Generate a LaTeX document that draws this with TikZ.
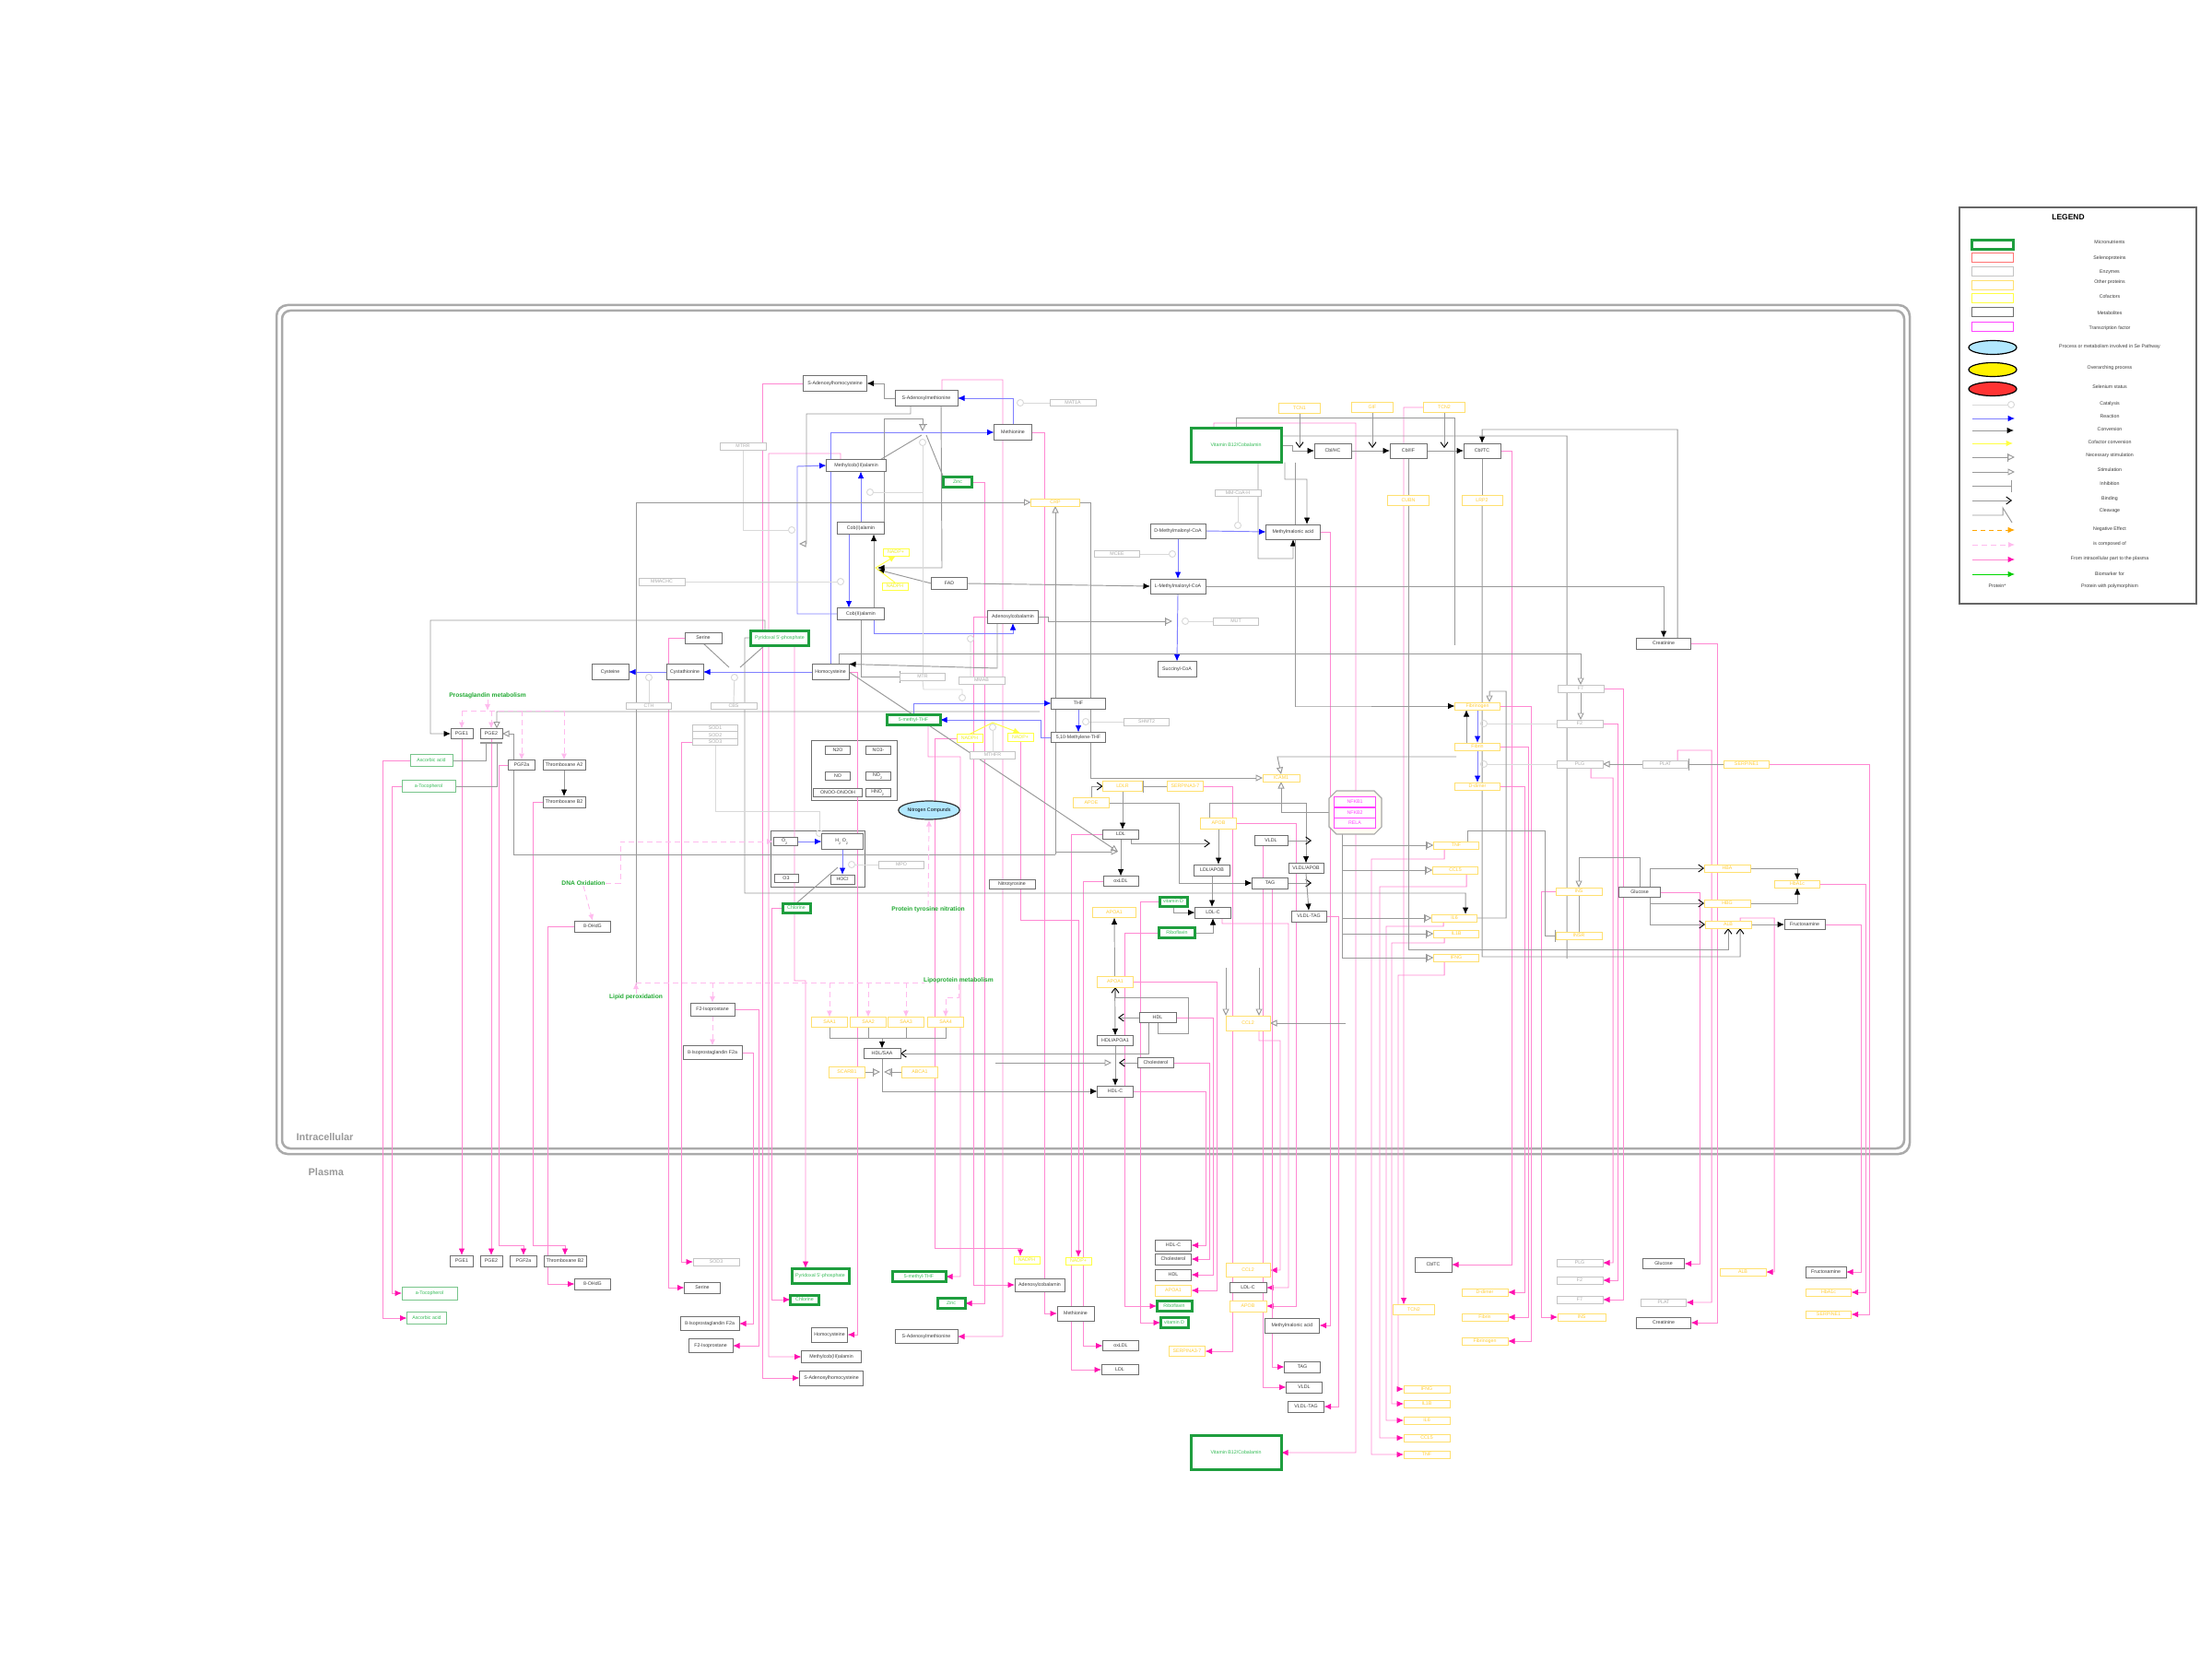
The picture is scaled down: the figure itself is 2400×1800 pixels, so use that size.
\documentclass[tikz,border=0pt]{standalone}
\usepackage{fontspec}
\setmainfont{Liberation Sans}
\usetikzlibrary{arrows.meta,calc,shapes.geometric}
\definecolor{metc}{HTML}{707070}
\definecolor{metT}{HTML}{3A3A3A}
\definecolor{microc}{HTML}{1E9E3E}
\definecolor{microt}{HTML}{33BB55}
\definecolor{enzc}{HTML}{C4C4C4}
\definecolor{enzt}{HTML}{AAAAAA}
\definecolor{protc}{HTML}{FFE070}
\definecolor{prott}{HTML}{FFCC33}
\definecolor{cofc}{HTML}{FFFF44}
\definecolor{coft}{HTML}{EEEE22}
\definecolor{tfc}{HTML}{FF44FF}
\definecolor{pinkl}{HTML}{FF88D2}
\definecolor{pinka}{HTML}{FF10B0}
\definecolor{pinkd}{HTML}{FFBBEE}
\definecolor{grayl}{HTML}{999999}
\definecolor{bluel}{HTML}{8080FF}
\definecolor{labg}{HTML}{22AA33}
\definecolor{framec}{HTML}{AAAAAA}
\newcommand{\fA}{\fontsize{1.5}{1.8}\selectfont}
\newcommand{\fL}{\fontsize{1.9}{2.2}\selectfont\bfseries}
\newcommand{\bx}[7]{\node[#1,minimum width=#5*0.1mm,minimum height=#6*0.1mm] (#2) at (#3,#4) {#7};}
\pgfdeclarelayer{bg}
\pgfdeclarelayer{paper}
\pgfsetlayers{paper,bg,main}
\begin{document}
\begin{tikzpicture}[x=0.1mm,y=-0.1mm,
  box/.style={rectangle,inner sep=0pt,outer sep=0pt,fill=white,font=\fA,align=center},
  met/.style={box,draw=metc,line width=0.1mm,text=metT},
  micro/.style={box,draw=microc,line width=0.3mm,text=microt},
  microthin/.style={box,draw=microc!60,line width=0.1mm,text=microt},
  enz/.style={box,draw=enzc,line width=0.1mm,text=enzt},
  prot/.style={box,draw=protc,line width=0.1mm,text=prott},
  cofa/.style={box,draw=cofc,line width=0.1mm,text=coft},
  tfac/.style={box,draw=tfc,line width=0.1mm,text=tfc},
  lab/.style={font=\fL,text=labg,inner sep=0pt},
  ln/.style={line width=0.095mm},
  cv/.style={ln,draw=grayl,-{Latex[length=0.75mm,width=0.65mm,color=black]}},
  bl/.style={ln,draw=bluel,-{Latex[length=0.75mm,width=0.65mm,color=blue]}},
  cat/.style={ln,draw=black!15,-{Circle[open,length=0.8mm,width=0.8mm]}},
  st/.style={ln,draw=grayl,-{Triangle[open,length=0.75mm,width=0.7mm]}},
  nst/.style={ln,draw=grayl,-{Bar[width=0.9mm]Triangle[open,length=0.75mm,width=0.7mm]}},
  inh/.style={ln,draw=grayl,-{Bar[width=1.3mm]}},
  bind/.style={ln,draw=grayl,-{Straight Barb[length=0.55mm,width=0.8mm,color=black]}},
  gl/.style={ln,draw=grayl},
  pk/.style={ln,draw=pinkl,-{Latex[length=0.75mm,width=0.65mm,color=pinka]}},
  pkd/.style={line width=0.09mm,draw=pinkd,dash pattern=on 0.6mm off 0.4mm,-{Latex[length=0.7mm,width=0.6mm,color=pinkd]}},
  cofl/.style={ln,draw=cofc,-{Latex[length=0.75mm,width=0.65mm,color=cofc]}}
]
\useasboundingbox (0,0) rectangle (2400,1800);
\begin{pgfonlayer}{paper}
\fill[white] (0,0) rectangle (2400,1800);
\end{pgfonlayer}

% ---------- compartment frame ----------
\begin{pgfonlayer}{bg}
\draw[framec,line width=0.25mm,rounded corners=1.2mm] (300,331) rectangle (2072,1252);
\draw[framec,line width=0.25mm,rounded corners=0.9mm] (306,337) rectangle (2066,1246);
\end{pgfonlayer}
\node[font=\fontsize{3.1}{3.5}\selectfont\bfseries,text=grayl,anchor=west,inner sep=0pt] (tIntra) at (321,1234) {Intracellular};
\node[font=\fontsize{3.1}{3.5}\selectfont\bfseries,text=grayl,anchor=west,inner sep=0pt] (tPlasma) at (334,1272) {Plasma};

% ---------- intracellular: one-carbon and cobalamin ----------
\bx{met}{SAH}{906}{416}{69}{17}{S-Adenosylhomocysteine}
\bx{met}{SAM}{1005}{432}{68}{17}{S-Adenosylmethionine}
\bx{met}{Met}{1099}{469}{41}{17}{Methionine}
\bx{met}{MeCbl}{929}{505}{65}{13}{Methylcob(III)alamin}
\bx{met}{CobI}{934}{573}{51}{13}{Cob(I)alamin}
\bx{met}{CobII}{934}{666}{51}{13}{Cob(II)alamin}
\bx{met}{FAD}{1030}{633}{39}{13}{FAD}
\bx{met}{AdoCbl}{1099}{669}{55}{14}{Adenosylcobalamin}
\bx{met}{DMM}{1278}{576}{60}{16}{D-Methylmalonyl-CoA}
\bx{met}{LMM}{1278}{636}{60}{16}{L-Methylmalonyl-CoA}
\bx{met}{MMA}{1403}{577}{59}{16}{Methylmalonic acid}
\bx{met}{CblHC}{1446}{489}{40}{16}{Cbl/HC}
\bx{met}{CblIF}{1528}{489}{40}{16}{Cbl/IF}
\bx{met}{CblTC}{1608}{489}{40}{16}{Cbl/TC}
\bx{met}{SuccCoA}{1277}{726}{42}{17}{Succinyl-CoA}
\bx{met}{Creat}{1805}{698}{59}{12}{Creatinine}
\bx{met}{Serine}{763}{692}{40}{12}{Serine}
\bx{met}{Cysteine}{662}{729}{40}{17}{Cysteine}
\bx{met}{Cysta}{743}{729}{40}{17}{Cystathionine}
\bx{met}{Hcy}{901}{729}{40}{17}{Homocysteine}
\bx{met}{THF}{1170}{763}{59}{12}{THF}
\bx{met}{MTHFB}{1170}{800}{59}{11}{5,10-Methylene-THF}
\bx{micro}{B12}{1341}{483}{98}{37}{Vitamin B12/Cobalamin}
\bx{micro}{Zinc}{1039}{523}{31}{11}{Zinc}
\bx{micro}{Pyr}{846}{692}{63}{16}{Pyridoxal 5'-phosphate}
\bx{micro}{MeTHF}{991}{781}{58}{11}{5-methyl-THF}
\bx{enz}{MAT1A}{1164}{437}{50}{7}{MAT1A}
\bx{enz}{MCEE}{1212}{601}{49}{7}{MCEE}
\bx{enz}{MMCoAH}{1343}{535}{50}{7}{MM-CoA-H}
\bx{enz}{MUT}{1341}{674}{49}{8}{MUT}
\bx{enz}{CTH}{704}{766}{49}{7}{CTH}
\bx{enz}{CBS}{796}{766}{50}{7}{CBS}
\bx{enz}{MTR}{1001}{734}{49}{8}{MTR}
\bx{enz}{MMAB}{1065}{738}{50}{8}{MMAB}
\bx{enz}{SHMT2}{1244}{783}{49}{8}{SHMT2}
\bx{enz}{MTHFR}{1077}{819}{49}{8}{MTHFR}
\bx{enz}{MTRR}{806}{484}{50}{8}{MTRR}
\bx{enz}{MMACHC}{718}{631}{50}{8}{MMACHC}
\bx{cofa}{NADPa}{972}{599}{28}{8}{NADP+}
\bx{cofa}{NADPHa}{971}{636}{28}{8}{NADPH}
\bx{cofa}{NADPHb}{1052}{801}{28}{9}{NADPH}
\bx{cofa}{NADPb}{1107}{800}{28}{9}{NADP+}
\bx{prot}{TCN1}{1410}{443}{45}{11}{TCN1}
\bx{prot}{GIF}{1489}{442}{45}{11}{GIF}
\bx{prot}{TCN2}{1567}{442}{45}{11}{TCN2}
\bx{prot}{CUBN}{1528}{543}{45}{11}{CUBN}
\bx{prot}{LRP2}{1608}{543}{44}{11}{LRP2}
\bx{prot}{CRP}{1145}{545}{53}{8}{CRP}

% ---------- prostaglandins, oxidative stress ----------
\bx{met}{PGE1}{501}{796}{24}{11}{PGE1}
\bx{met}{PGE2}{533}{796}{24}{11}{PGE2}
\bx{met}{PGF2a}{566}{830}{29}{11}{PGF2a}
\bx{met}{TXA2}{612}{830}{46}{11}{Thromboxane A2}
\bx{met}{TXB2}{612}{870}{46}{12}{Thromboxane B2}
\bx{microthin}{Asc}{468}{825}{46}{13}{Ascorbic acid}
\bx{microthin}{Toco}{465}{853}{58}{13}{a-Tocopherol}
\bx{enz}{SOD1}{776}{790}{49}{7.5}{SOD1}
\bx{enz}{SOD2}{776}{797.5}{49}{7.5}{SOD2}
\bx{enz}{SOD3}{776}{805}{49}{7.5}{SOD3}
\begin{pgfonlayer}{bg}
\draw[metc,line width=0.1mm] (880,803) rectangle (973,868);
\draw[metc,line width=0.1mm] (836,901) rectangle (938,962);
\end{pgfonlayer}
\bx{met}{N2O}{909}{814}{27}{9}{N2O}
\bx{met}{NO3}{953}{814}{27}{9}{NO3-}
\bx{met}{NO}{909}{842}{27}{9}{NO}
\bx{met}{NO2}{953}{842}{27}{9}{NO\textsubscript{2}}
\bx{met}{ONOO}{909}{860}{53}{9}{ONOO-ONOOH}
\bx{met}{HNO2}{953}{860}{27}{9}{HNO\textsubscript{2}}
\bx{met}{O2}{852}{913}{26}{9}{O\textsubscript{2}}
\bx{met}{H2O2}{914}{913}{45}{17}{H\textsubscript{2}O\textsubscript{2}}
\bx{met}{O3}{853}{953}{26}{9}{O3}
\bx{met}{HOCl}{914}{954}{26}{10}{HOCl}
\bx{micro}{Chl}{864}{985}{30}{10}{Chlorine}
\bx{enz}{MPO}{978}{938}{49}{8}{MPO}
\node[ellipse,draw=black!80,fill=blue!30!cyan!30,line width=0.12mm,minimum width=5.9mm,minimum height=2mm,inner sep=0pt,font=\fA] (NitroC) at (1008,879) {Nitrogen Compunds};
\bx{met}{Nitrotyr}{1098}{959}{50}{10}{Nitrotyrosine}
\bx{met}{OHdG}{643}{1005}{39}{12}{8-OHdG}
\bx{met}{F2iso}{773}{1095}{48}{14}{F2-Isoprostane}
\bx{met}{Iso8}{773}{1142}{64}{15}{8-Isoprostaglandin F2a}

% ---------- lipoproteins ----------
\bx{prot}{LDLR}{1218}{853}{43}{11}{LDLR}
\bx{prot}{SERP}{1286}{853}{39}{11}{SERPINA3-7}
\bx{prot}{APOE}{1184}{871}{39}{11}{APOE}
\bx{prot}{APOB}{1322}{893}{39}{12}{APOB}
\bx{met}{LDL}{1216}{905}{39}{10}{LDL}
\bx{met}{oxLDL}{1216}{956}{38}{11}{oxLDL}
\bx{met}{LDLAPOB}{1315}{944}{39}{12}{LDL/APOB}
\bx{met}{LDLC}{1316}{990}{39}{12}{LDL-C}
\bx{met}{VLDL}{1379}{912}{36}{11}{VLDL}
\bx{met}{TAG}{1378}{958}{39}{12}{TAG}
\bx{met}{VLDLAPOB}{1417}{942}{38}{11}{VLDL/APOB}
\bx{met}{VLDLTAG}{1420}{994}{38}{12}{VLDL-TAG}
\bx{micro}{VitD}{1273}{978}{30}{10}{vitamin D}
\bx{micro}{Ribo}{1277}{1012}{39}{11}{Riboflavin}
\bx{prot}{APOAa}{1209}{990}{47}{11}{APOA1}
\bx{prot}{APOAb}{1210}{1065}{39}{12}{APOA1}
\bx{met}{HDL}{1256}{1104}{40}{11}{HDL}
\bx{met}{HDLAPOA}{1210}{1129}{39}{11}{HDL/APOA1}
\bx{met}{Chol}{1254}{1153}{39}{11}{Cholesterol}
\bx{met}{HDLC}{1210}{1184}{39}{12}{HDL-C}
\bx{prot}{CCL2}{1354}{1110}{48}{16}{CCL2}
\bx{prot}{SAA1}{900}{1109}{39}{11}{SAA1}
\bx{prot}{SAA2}{942}{1109}{39}{11}{SAA2}
\bx{prot}{SAA3}{983}{1109}{39}{11}{SAA3}
\bx{prot}{SAA4}{1026}{1109}{39}{11}{SAA4}
\bx{met}{HDLSAA}{957}{1143}{40}{11}{HDL/SAA}
\bx{prot}{SCARB1}{919}{1163}{39}{12}{SCARB1}
\bx{prot}{ABCA1}{998}{1163}{39}{12}{ABCA1}

% ---------- coagulation, inflammation, glycation ----------
\bx{prot}{Fibrinogen}{1603}{766}{49}{8}{Fibrinogen}
\bx{prot}{Fibrin}{1603}{810}{49}{8}{Fibrin}
\bx{prot}{Ddimer}{1603}{853}{49}{8}{D-dimer}
\bx{enz}{F7}{1715}{747}{50}{8}{F7}
\bx{enz}{F2}{1714}{785}{50}{8}{F2}
\bx{enz}{PLG}{1714}{829}{50}{8}{PLG}
\bx{enz}{PLAT}{1807}{829}{49}{8}{PLAT}
\bx{prot}{SERPINE1}{1895}{829}{49}{8}{SERPINE1}
\bx{prot}{ICAM1}{1390}{844}{40}{8}{ICAM1}
\draw[black!35,fill=black!4!yellow!5,line width=0.11mm] (1450,858) -- (1491,858) -- (1499,866) -- (1499,897) -- (1491,905) -- (1450,905) -- (1442,897) -- (1442,866) -- cycle;
\bx{tfac}{NFKB1}{1470}{870}{45}{11}{NFKB1}
\bx{tfac}{NFKB2}{1470}{882}{45}{11}{NFKB2}
\bx{tfac}{RELA}{1470}{893}{45}{11}{RELA}
\bx{prot}{TNF}{1580}{917}{49}{8}{TNF}
\bx{prot}{CCL5}{1579}{944}{49}{8}{CCL5}
\bx{prot}{IL6}{1578}{996}{49}{8}{IL6}
\bx{prot}{IL1B}{1580}{1013}{49}{8}{IL1B}
\bx{prot}{IFNG}{1580}{1039}{49}{8}{IFNG}
\bx{prot}{INS}{1713}{967}{50}{8}{INS}
\bx{prot}{INSR}{1713}{1015}{50}{8}{INSR}
\bx{met}{Glucose}{1779}{968}{45}{11}{Glucose}
\bx{prot}{HBA}{1874}{942}{50}{8}{HBA}
\bx{prot}{HBG}{1874}{980}{50}{8}{HBG}
\bx{prot}{ALB}{1875}{1003}{50}{8}{ALB}
\bx{prot}{HbA1c}{1950}{959}{49}{8}{HbA1c}
\bx{met}{Fructo}{1958}{1003}{44}{11}{Fructosamine}

% ---------- process labels ----------
\node[lab] (lProst) at (529,755) {Prostaglandin metabolism};
\node[lab] (lDNA) at (633,958) {DNA Oxidation};
\node[lab] (lLipid) at (690,1082) {Lipid peroxidation};
\node[lab] (lNitr) at (1007,987) {Protein tyrosine nitration};
\node[lab] (lLipo) at (1040,1064) {Lipoprotein metabolism};

% ---------- plasma ----------
\bx{met}{pPGE1}{501}{1368}{25}{12}{PGE1}
\bx{met}{pPGE2}{533}{1368}{24}{12}{PGE2}
\bx{met}{pPGF2a}{568}{1368}{29}{12}{PGF2a}
\bx{met}{pTXB2}{613}{1368}{46}{12}{Thromboxane B2}
\bx{met}{pOHdG}{643}{1393}{39}{12}{8-OHdG}
\bx{microthin}{pToco}{466}{1403}{60}{14}{a-Tocopherol}
\bx{microthin}{pAsc}{463}{1430}{43}{13}{Ascorbic acid}
\bx{enz}{pSOD3}{777}{1369}{50}{8}{SOD3}
\bx{met}{pSerine}{762}{1397}{39}{12}{Serine}
\bx{met}{pIso8}{770}{1436}{64}{15}{8-Isoprostaglandin F2a}
\bx{met}{pF2iso}{771}{1460}{48}{15}{F2-Isoprostane}
\bx{micro}{pPyr}{890}{1384}{62}{16}{Pyridoxal 5'-phosphate}
\bx{micro}{pChl}{873}{1410}{31}{10}{Chlorine}
\bx{met}{pHcy}{900}{1448}{39}{16}{Homocysteine}
\bx{met}{pMeCbl}{902}{1472}{65}{13}{Methylcob(III)alamin}
\bx{met}{pSAH}{902}{1495}{69}{16}{S-Adenosylhomocysteine}
\bx{micro}{pMeTHF}{997}{1385}{58}{11}{5-methyl-THF}
\bx{micro}{pZinc}{1032}{1414}{30}{11}{Zinc}
\bx{met}{pSAM}{1005}{1450}{68}{15}{S-Adenosylmethionine}
\bx{cofa}{pNADPH}{1114}{1367}{28}{8}{NADPH}
\bx{cofa}{pNADP}{1170}{1368}{28}{8}{NADP+}
\bx{met}{pAdoCbl}{1128}{1394}{54}{14}{Adenosylcobalamin}
\bx{met}{pMet}{1167}{1425}{40}{16}{Methionine}
\bx{met}{poxLDL}{1216}{1460}{39}{11}{oxLDL}
\bx{met}{pLDL}{1215}{1486}{40}{11}{LDL}
\bx{met}{pHDLC}{1273}{1351}{39}{12}{HDL-C}
\bx{met}{pChol}{1273}{1366}{39}{12}{Cholesterol}
\bx{met}{pHDL}{1273}{1383}{39}{12}{HDL}
\bx{prot}{pAPOA}{1273}{1400}{39}{12}{APOA1}
\bx{micro}{pRibo}{1274}{1417}{38}{11}{Riboflavin}
\bx{micro}{pVitD}{1274}{1435}{30}{11}{vitamin D}
\bx{prot}{pSERP}{1288}{1466}{39}{11}{SERPINA3-7}
\bx{prot}{pCCL2}{1354}{1378}{48}{15}{CCL2}
\bx{met}{pLDLC}{1354}{1397}{40}{11}{LDL-C}
\bx{prot}{pAPOB}{1354}{1417}{40}{12}{APOB}
\bx{met}{pMMA}{1402}{1438}{59}{16}{Methylmalonic acid}
\bx{met}{pTAG}{1413}{1483}{39}{12}{TAG}
\bx{met}{pVLDL}{1415}{1505}{39}{12}{VLDL}
\bx{met}{pVLDLTAG}{1417}{1526}{39}{12}{VLDL-TAG}
\bx{micro}{pB12}{1341}{1576}{98}{37}{Vitamin B12/Cobalamin}
\bx{met}{pCblTC}{1555}{1372}{40}{16}{CblTC}
\bx{prot}{pTCN2}{1534}{1421}{45}{11}{TCN2}
\bx{prot}{pIFNG}{1548}{1507}{50}{8}{IFNG}
\bx{prot}{pIL1B}{1548}{1523}{50}{8}{IL1B}
\bx{prot}{pIL6}{1548}{1541}{50}{8}{IL6}
\bx{prot}{pCCL5}{1548}{1560}{50}{8}{CCL5}
\bx{prot}{pTNF}{1548}{1578}{50}{8}{TNF}
\bx{prot}{pDdimer}{1611}{1402}{50}{8}{D-dimer}
\bx{prot}{pFibrin}{1611}{1429}{50}{8}{Fibrin}
\bx{prot}{pFibrinogen}{1611}{1455}{50}{8}{Fibrinogen}
\bx{enz}{pPLG}{1714}{1370}{50}{8}{PLG}
\bx{enz}{pF2}{1714}{1389}{50}{8}{F2}
\bx{enz}{pF7}{1714}{1410}{50}{8}{F7}
\bx{prot}{pINS}{1716}{1429}{52}{8}{INS}
\bx{met}{pGlucose}{1805}{1371}{45}{11}{Glucose}
\bx{enz}{pPLAT}{1805}{1413}{49}{8}{PLAT}
\bx{met}{pCreat}{1805}{1435}{59}{12}{Creatinine}
\bx{prot}{pALB}{1891}{1380}{50}{8}{ALB}
\bx{met}{pFructo}{1981}{1380}{44}{12}{Fructosamine}
\bx{prot}{pHbA1c}{1984}{1402}{49}{8}{HbA1c}
\bx{prot}{pSERPINE1}{1984}{1426}{49}{8}{SERPINE1}

\begin{pgfonlayer}{bg}
% ---------- transport to plasma ----------
\draw[pk] (PGE1.south) -- (pPGE1.north);
\draw[pk] (PGE2.south) -- (pPGE2.north);
\draw[pk] (PGF2a.west) -- (541,830) -- (541,1351) -| (pPGF2a.north);
\draw[pk] (TXB2.west) -- (578,870) -- (578,1351) -| (pTXB2.north);
\draw[pk] (OHdG.west) -- (594,1005) |- (pOHdG.west);
\draw[pk] (Asc.west) -- (415,825) |- (pAsc.west);
\draw[pk] (Toco.west) -- (425,853) |- (pToco.west);
\draw[pk] (SOD3.west) -- (739,805) |- (pSOD3.west);
\draw[pk] (Serine.west) -- (725,692) |- (pSerine.west);
\draw[pk] (Iso8.east) -- (817,1142) |- (pIso8.east);
\draw[pk] (F2iso.east) -- (823,1095) |- (pF2iso.east);
\draw[pk] ([xshift=1.6mm]Pyr.south) -- (862,1064) -- (874,1064) -- ([xshift=-1.6mm]pPyr.north);
\draw[pk] (Chl.west) -- (837,985) |- (pChl.west);
\draw[pk] (Hcy.east) -- (930,729) |- (pHcy.east);
\draw[pk] ([xshift=-1.7mm]MeCbl.north) -- (912,492) -- (834,492) |- (pMeCbl.west);
\draw[pk] (SAH.west) -- (827,416) |- (pSAH.west);
\draw[pk] ([xshift=1.6mm]MeTHF.south) -- (1007,821) -- (1042,821) |- (pMeTHF.east);
\draw[pk] (Zinc.east) -- (1068,523) |- (pZinc.east);
\draw[pk] ([xshift=1.7mm]SAM.north) -- (1022,412) -- (1088,412) |- (pSAM.east);
\draw[pk] (NADPHb.west) -- (1014,801) -- (1014,1354) -| ([xshift=-0.7mm]pNADPH.north);
\draw[pk] (NADPb.south) -- (1107,998) -- (1170,998) -- (pNADP.north);
\draw[pk] (AdoCbl.west) -- (1056,669) |- (pAdoCbl.west);
\draw[pk] (Met.east) -- (1133,469) |- (pMet.west);
\draw[pk] (oxLDL.west) -- (1175,956) |- (poxLDL.west);
\draw[pk] (LDL.west) -- (1162,905) |- (pLDL.west);
\draw[pk] (HDLC.east) -- (1308,1184) |- (pHDLC.east);
\draw[pk] (Chol.east) -- (1312,1153) |- (pChol.east);
\draw[pk] (HDL.east) -- (1316,1104) |- (pHDL.east);
\draw[pk] (APOAb.east) -- (1320,1065) |- (pAPOA.east);
\draw[pk] (Ribo.west) -- (1220,1012) |- (pRibo.west);
\draw[pk] (VitD.west) -- (1237,978) |- (pVitD.west);
\draw[pk] (SERP.east) -- (1337,853) |- (pSERP.east);
\draw[pk] ([xshift=1.2mm]CCL2.south) -- (1366,1129) -- (1389,1129) |- (pCCL2.east);
\draw[pk] ([xshift=1mm]LDLC.south) -- (1326,1002) -- (1398,1002) |- (pLDLC.east);
\draw[pk] (APOB.east) -- (1406,893) |- (pAPOB.east);
\draw[pk] (MMA.east) -- (1443,577) |- (pMMA.east);
\draw[pk] ([xshift=0.2mm]TAG.south) |- (pTAG.west);
\draw[pk] ([xshift=-0.9mm]VLDL.south) |- (pVLDL.west);
\draw[pk] (VLDLTAG.east) -- (1452,994) |- (pVLDLTAG.east);
\draw[pk] ([xshift=-2.4mm]B12.north) -- (1317,459) -- (1471,459) |- (pB12.east);
\draw[pk] (CblTC.east) -- (1640,489) |- (pCblTC.east);
\draw[pk] (TCN2.west) -- (1523,442) -- ([xshift=-1.1mm]pTCN2.north);
\draw[pk] ([xshift=-1.3mm]IFNG.south) -- (1567,1058) -- (1517,1058) |- (pIFNG.west);
\draw[pk] ([xshift=-1.3mm]IL1B.south) -- (1567,1023) -- (1510,1023) |- (pIL1B.west);
\draw[pk] ([xshift=-1.2mm]IL6.south) -- (1566,1005) -- (1504,1005) |- (pIL6.west);
\draw[pk] ([xshift=1.2mm]CCL5.south) -- (1591,962) -- (1497,962) |- (pCCL5.west);
\draw[pk] ([xshift=-1.3mm]TNF.south) -- (1567,932) -- (1488,932) |- (pTNF.west);
\draw[pk] (Ddimer.east) -- (1654,853) |- (pDdimer.east);
\draw[pk] (Fibrin.east) -- (1658,810) |- (pFibrin.east);
\draw[pk] (Fibrinogen.east) -- (1661,766) |- (pFibrinogen.east);
\draw[pk] ([xshift=1.2mm]PLG.south) -- (1726,844) -- (1750,844) |- (pPLG.east);
\draw[pk] (F2.east) -- (1755,785) |- (pF2.east);
\draw[pk] (F7.east) -- (1761,747) |- (pF7.east);
\draw[pk] (INS.west) -- (1672,967) |- (pINS.west);
\draw[pk] (Glucose.east) -- (1844,968) |- (pGlucose.east);
\draw[pk] ([xshift=1.3mm]PLAT.north) -- (1820,814) -- (1857,814) |- (pPLAT.east);
\draw[pk] (Creat.east) -- (1863,698) |- (pCreat.east);
\draw[pk] ([xshift=1.3mm]ALB.north) -- (1888,996) -- (1925,996) |- (pALB.east);
\draw[pk] (Fructo.east) -- (2019,1003) |- (pFructo.east);
\draw[pk] (HbA1c.east) -- (2024,959) |- (pHbA1c.east);
\draw[pk] (SERPINE1.east) -- (2028,829) |- (pSERPINE1.east);

% ---------- methionine cycle and cobalamin ----------
\draw[bl] (Hcy.north) -- (901,469) -- (Met.west);
\draw[bl] (Met.north) |- (SAM.east);
\draw[cat] (MAT1A.west) -- (1103,437);
\draw[cv] (SAM.west) -- (959,432) |- (SAH.east);
\draw[bl] (CobI.north) -- (CobI.north |- MeCbl.south);
\draw[bl] ([xshift=-1.3mm]CobI.south) -- ([xshift=-1.3mm]CobII.north);
\draw[bl] ([xshift=1.4mm]CobII.south) |- (1099,687) -- (AdoCbl.south);
\draw[bl] (CobII.west) -- (865,666) -- (865,506) -- (MeCbl.west);
\draw[cat] (MTRR.south) |- (863,575);
\draw[cat] (MMACHC.east) -- (916,631);
\draw[cat] ([xshift=-1.2mm]MMAB.north) -- (1053,689);
\draw[st] ([xshift=-1.7mm]SAM.south) -- (988,449) -- (875,449) |- (867,590);
\draw[cv] ([xshift=1.6mm]SAM.south) -- (1022,616) -- (952,616);
\draw[cv] (FAD.west) -- (952,618);
\draw[cofl] (NADPHa.north) -- (950,616) -- (NADPa.south);
\draw[gl] ([xshift=-0.6mm]MeCbl.north east) -- (1000,472);
\draw[gl] (Zinc.north west) -- (1005,472);
\draw[nst] (CobI.north east) |- (1001,454) -- (1001,468);
\draw[cat] (MTR.north) -- (1001,476);
\draw[cat] (1001,534) -- (940,534);
\draw[cv] ([xshift=1.4mm]CobII.north) -- ([xshift=1.4mm]CobI.south);
\draw[nst] (AdoCbl.east) -- (1137,669) |- (1272,674);
\draw[inh] (CobII.south) -- (934,734) -- (MTR.west);
\draw[cv] ([xshift=-1.7mm]AdoCbl.south) -- (1082,725) -- (Hcy.north east);
\draw[st] ([xshift=0.9mm]Hcy.north) |- (1715,709) -- (F7.north);
\draw[st] (Hcy.east) -- (1213,924);

% ---------- transsulfuration ----------
\draw[bl] (Hcy.west) -- (Cysta.east);
\draw[bl] (Cysta.west) -- (Cysteine.east);
\draw[cat] (CBS.north) -- (797,731);
\draw[cat] (CTH.north) -- (704,731);
\draw[gl] (Serine.south) -- (791,724);
\draw[gl] ([xshift=-1.6mm]Pyr.south) -- (803,724);

% ---------- folate cycle ----------
\draw[bl] (MeTHF.north) |- (THF.west);
\draw[bl] (THF.south) -- (MTHFB.north);
\draw[bl] (MTHFB.west) -- (1129,800) |- (MeTHF.east);
\draw[cat] (SHMT2.west) -- (1174,783);
\draw[cat] (MTHFR.north) -- (1077,785);
\draw[cofl] (NADPHb.north) -- (1077,784) -- (NADPb.north);
\draw[cat] (MTR.south) -- (1002,748) -- (1044,748) -- (1044,761);

% ---------- propionate / MMA ----------
\draw[bl] (DMM.east) -- (MMA.west);
\draw[cat] (MMCoAH.south) -- (1343,574);
\draw[bl] (DMM.south) -- (LMM.north);
\draw[cat] (MCEE.east) -- (1276,601);
\draw[bl] (LMM.south) -- (SuccCoA.north);
\draw[cat] (MUT.west) -- (1282,674);
\draw[cv] (FAD.east) -- (LMM.west);
\draw[cv] (LMM.east) -| (Creat.north);
\draw[cv] ([xshift=1.5mm]Creat.north) -- (1820,466) -| (CblTC.north);

% ---------- cobalamin absorption ----------
\draw[cv] (B12.east) -| (1402,489) -- (CblHC.west);
\draw[cv] (CblHC.east) -- (CblIF.west);
\draw[cv] (CblIF.east) -- (CblTC.west);
\draw[bind] (TCN1.south) -- (1410,486);
\draw[bind] (GIF.south) -- (1489,486);
\draw[bind] (TCN2.south) -- (1567,486);
\draw[gl] (CblIF.south) -- (CUBN.north);
\draw[gl] (CblTC.south) -- (LRP2.north);
\draw[bind] (CUBN.south) |- (1875,1030) -- (ALB.south);
\draw[bind] (LRP2.south) |- (1888,1038) -- ([xshift=1.3mm]ALB.south);
\draw[gl] ([yshift=1mm]B12.east) -- (1700,473) -- (1700,1040);
\draw[gl] (B12.north) |- (1578,453) -- (1578,700);
\draw[cv] ([xshift=2.4mm]B12.south) -- (1365,606) -- (1403,606) -- (MMA.south);
\draw[cv] ([xshift=5.3mm]B12.south) -- (1394,520) -- (1418,520) -- ([xshift=1.5mm]MMA.north);
\draw[cv] ([xshift=6.4mm]B12.south) |- (1406,766) -- (Fibrinogen.west);

% ---------- prostaglandins ----------
\draw[cv] ([xshift=-1.6mm]Pyr.north) -- (830,673) -- (467,673) |- (PGE1.west);
\draw[gl] (Asc.east) -| (527,806);
\draw[gl] (Toco.east) -| (539,806);
\draw[grayl,line width=0.16mm] (521,806) -- (545,806);
\draw[cv] (TXA2.south) -- (TXB2.north);
\draw[st] (1128,772) -- (539,772) -- ([xshift=0.6mm]PGE2.north);
\draw[st] (1145,927) -- (557,927) |- (PGE2.east);
\draw[st] (1145,927) -- (CRP.south);
\draw[st] (lLipid.north) |- (CRP.west);
\draw[st] (CRP.east) -- (1183,545) |- (ICAM1.west);
\draw[cv] (Pyr.west) -- (808,692) -- (808,969) -- (1590,969) -- ([xshift=1.2mm]IL6.north);
\draw[pkd] (lProst.south) -- (529,771);
\draw[pinkd,line width=0.09mm,dash pattern=on 0.6mm off 0.4mm] (501,771) -- (612,771);
\draw[pkd] (501,771) -- (PGE1.north);
\draw[pkd] (533,771) -- (PGE2.north);
\draw[pkd] (566,771) -- (PGF2a.north);
\draw[pkd] (612,771) -- (TXA2.north);
\draw[pkd] (lDNA.south) -- (OHdG.north);
\draw[pkd] (lDNA.east) -- (673,958) |- (O2.west);
\draw[pinkd,line width=0.09mm,dash pattern=on 0.6mm off 0.4mm] (690,1066) -- (1003,1066);
\draw[pkd] (lLipid.north) -- (690,1066);
\draw[pkd] (773,1066) -- (F2iso.north);
\draw[pkd] (F2iso.south) -- (Iso8.north);
\draw[pkd] (900,1066) -- (SAA1.north);
\draw[pkd] (942,1066) -- (SAA2.north);
\draw[pkd] (983,1066) -- (SAA3.north);
\draw[pkd] (lLipo.south) -- (1040,1082) -| (SAA4.north);
\draw[pkd] (lNitr.north) -- (NitroC.south);

% ---------- oxidants ----------
\draw[bl] (O2.east) -- (H2O2.west);
\draw[bl] (H2O2.south) -- (HOCl.north);
\draw[cat] (MPO.west) -- (920,938);
\draw[gl] (Chl.north) -- (909,941);
\draw[cat] (SOD3.south) -- (776,880) -- (889,880) -- (889,908);

% ---------- lipoproteins ----------
\draw[bind] (APOE.north) |- (LDLR.west);
\draw[cv] (LDLR.south) -- (LDLR.south |- LDL.north);
\draw[inh] (SERP.west) -- (LDLR.east);
\draw[cv] (LDL.south) -- (oxLDL.north);
\draw[cv] (APOB.south) -- (APOB.south |- LDLAPOB.north);
\draw[bind] ([xshift=1.1mm]LDL.south) |- (1313,915);
\draw[cv] (LDLAPOB.south) -- (LDLAPOB.south |- LDLC.north);
\draw[cv] (VitD.south) |- (LDLC.west);
\draw[cv] (Ribo.east) -| (LDLC.south);
\draw[cv] (APOE.east) -- (1279,871) |- (TAG.west);
\draw[cv] ([xshift=-1mm]APOB.north) |- (1417,871) -- (VLDLAPOB.north);
\draw[bind] (VLDL.east) -- (1423,912);
\draw[bind] (TAG.east) -- (1423,958);
\draw[cv] (VLDLAPOB.south) -- (VLDLTAG.north);
\draw[st] (1145,924) -- (1213,924);
\draw[cv,{Latex[length=0.75mm,width=0.65mm,color=black]}-{Latex[length=0.75mm,width=0.65mm,color=black]}] (APOAa.south) -- (HDLAPOA.north);
\draw[bind] (HDL.west) -- (1213,1104);
\draw[cv] (HDLAPOA.south) -- (HDLC.north);
\draw[bind] (Chol.west) -- (1214,1153);
\draw[st] (1080,1153) -- (1206,1153);
\draw[gl] (SAA1.south) -- (900,1126) -- (1026,1126) -- (SAA4.south);
\draw[gl] (SAA2.south) -- (942,1126);
\draw[gl] (SAA3.south) -- (983,1126);
\draw[cv] (957,1126) -- (HDLSAA.north);
\draw[cv] (HDLSAA.south) |- (HDLC.west);
\draw[nst] (SCARB1.east) -- (955,1163);
\draw[nst] (ABCA1.west) -- (959,1163);
\draw[bind] ([xshift=-1mm]HDL.south) |- (HDLSAA.east);
\draw[bind] (HDL.south) -- (1256,1121) -- (1289,1121) -- (1289,1082) -| (APOAb.south);
\draw[st] (1330,1050) -- (1330,1102);
\draw[st] (1366,1050) -- (1366,1102);
\draw[st] (1460,1110) -- (CCL2.east);

% ---------- coagulation ----------
\draw[bl] (Fibrinogen.south) -- (Fibrin.north);
\draw[bl] (Fibrin.south) -- (Ddimer.north);
\draw[cv] ([xshift=-1.2mm]Fibrin.north) -- ([xshift=-1.2mm]Fibrinogen.south);
\draw[cat] (F2.west) -- (1606,785);
\draw[cat] (PLG.west) -- (1606,829);
\draw[st] (F7.south) -- (F7.south |- F2.north);
\draw[st] (PLAT.west) -- (PLG.east);
\draw[inh] (SERPINE1.west) -- (PLAT.east);
\draw[st] (IL6.east) -- (1634,996) -- (1634,750) -- (1616,750) -- ([xshift=1.3mm]Fibrinogen.north);

% ---------- inflammation ----------
\draw[gl] (1456,905) -- (1456,1039);
\draw[nst] (1456,917) -- (TNF.west);
\draw[nst] (1456,944) -- (CCL5.west);
\draw[nst] (1456,996) -- (IL6.west);
\draw[nst] (1456,1013) -- (IL1B.west);
\draw[nst] (1456,1039) -- (IFNG.west);
\draw[st] (1442,881) -| (ICAM1.south);
\draw[st] (1580,821) -- (1386,821) -- (ICAM1.north);
\draw[gl] (INS.south) -- (INSR.north);
\draw[st] (Glucose.north) -- (1779,930) -| (INS.north);
\draw[inh] (1592,921) |- (1676,901) |- (INSR.west);

% ---------- glycation ----------
\draw[bind] ([xshift=1.1mm]Glucose.north) |- (HBA.west);
\draw[bind] ([xshift=1.1mm]Glucose.south) |- (HBG.west);
\draw[bind] ([xshift=1.1mm]Glucose.south) |- (ALB.west);
\draw[cv] (HBA.east) -| (HbA1c.north);
\draw[cv] (HBG.east) -| (HbA1c.south);
\draw[cv] (ALB.east) -- (Fructo.west);
\end{pgfonlayer}

% ---------- legend ----------
\draw[black!60,line width=0.15mm] (2126,225) rectangle (2383,655);
\node[font=\fontsize{2.4}{2.8}\selectfont\bfseries,inner sep=0pt] (legT) at (2244,236) {LEGEND};
\bx{micro}{lg1}{2162}{266}{45}{10}{}
\bx{box,draw=red!55,line width=0.1mm}{lg2}{2162}{280}{45}{10}{}
\bx{enz}{lg3}{2162}{295}{45}{10}{}
\bx{prot}{lg4}{2162}{310}{45}{10}{}
\bx{cofa}{lg5}{2162}{324}{45}{10}{}
\bx{met}{lg6}{2162}{339}{45}{10}{}
\bx{tfac}{lg7}{2162}{355}{45}{10}{}
\node[ellipse,draw=black,fill=blue!30!cyan!30,line width=0.12mm,minimum width=5.2mm,minimum height=1.5mm,inner sep=0pt] (lg8) at (2162,377) {};
\node[ellipse,draw=black,fill=yellow,line width=0.12mm,minimum width=5.2mm,minimum height=1.5mm,inner sep=0pt] (lg9) at (2162,401) {};
\node[ellipse,draw=black,fill=red!80,line width=0.12mm,minimum width=5.2mm,minimum height=1.5mm,inner sep=0pt] (lg10) at (2162,422) {};
\coordinate (la1) at (2140,439); \coordinate (lb1) at (2186,439);
\draw[cat] (la1) -- (lb1);
\coordinate (la2) at (2140,454); \coordinate (lb2) at (2186,454);
\draw[bl] (la2) -- (lb2);
\coordinate (la3) at (2140,467); \coordinate (lb3) at (2185,467);
\draw[cv] (la3) -- (lb3);
\coordinate (la4) at (2140,481); \coordinate (lb4) at (2184,481);
\draw[cofl] (la4) -- (lb4);
\coordinate (la5) at (2140,496); \coordinate (lb5) at (2186,496);
\draw[nst] (la5) -- (lb5);
\coordinate (la6) at (2140,512); \coordinate (lb6) at (2186,512);
\draw[st] (la6) -- (lb6);
\coordinate (la7) at (2140,527); \coordinate (lb7) at (2183,527);
\draw[inh] (la7) -- (lb7);
\coordinate (la8) at (2140,543); \coordinate (lb8) at (2183,543);
\draw[bind] (la8) -- (lb8);
\coordinate (la9) at (2140,559); \coordinate (lb9) at (2183,567);
\draw[gl] (la9) -- (2173,559) -- (2173,551) -- (lb9);
\coordinate (la10) at (2140,575); \coordinate (lb10) at (2186,575);
\draw[line width=0.09mm,draw=orange!70!yellow,dash pattern=on 0.5mm off 0.4mm,-{Latex[length=0.75mm,width=0.65mm,color=orange!70!yellow]}] (la10) -- (lb10);
\coordinate (la11) at (2140,591); \coordinate (lb11) at (2186,591);
\draw[pkd] (la11) -- (lb11);
\coordinate (la12) at (2140,607); \coordinate (lb12) at (2186,607);
\draw[pk] (la12) -- (lb12);
\coordinate (la13) at (2140,623); \coordinate (lb13) at (2186,623);
\draw[ln,draw=green!85!black,-{Latex[length=0.75mm,width=0.65mm,color=green!80!black]}] (la13) -- (lb13);
\node[font=\fA,text=metT,inner sep=0pt] (lgP) at (2167,636) {Protein*};
\foreach \y/\t in {263/Micronutrients,280/Selenoproteins,295/Enzymes,306/Other proteins,322/Cofactors,340/Metabolites,356/Transcription factor,376/Process or metabolism involved in Se Pathway,399/Overarching process,420/Selenium status,438/Catalysis,452/Reaction,466/Conversion,480/Cofactor conversion,494/Necessary stimulation,510/Stimulation,525/Inhibition,541/Binding,554/Cleavage,574/Negative Effect,590/is composed of,606/From intracellular part to the plasma,623/Biomarker for,636/Protein with polymorphism}
  \node[font=\fA,text=metT,inner sep=0pt] at (2289,\y) {\t};
\end{tikzpicture}
\end{document}
